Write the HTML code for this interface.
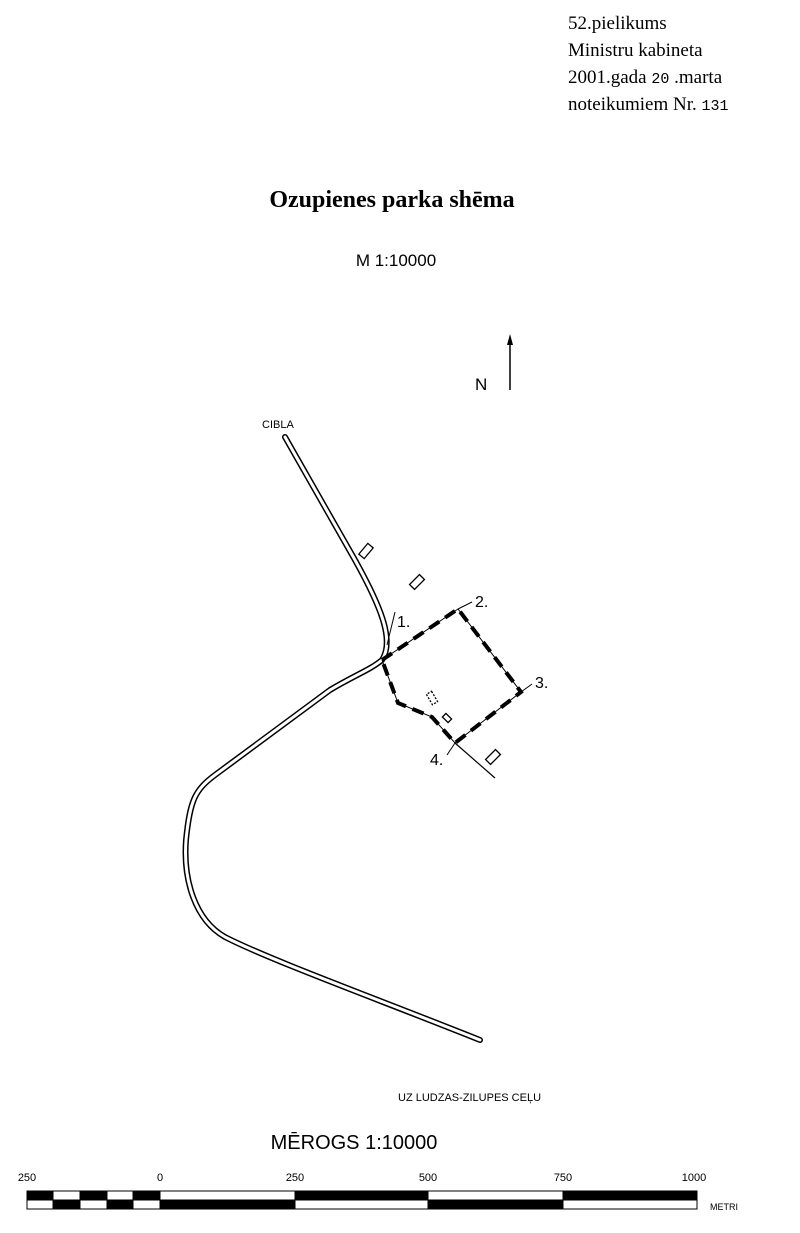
<!DOCTYPE html>
<html><head><meta charset="utf-8"><style>
body{margin:0;background:#fff;}
svg{display:block;}
</style></head><body>
<svg width="800" height="1233" viewBox="0 0 800 1233" xmlns="http://www.w3.org/2000/svg">
<g font-family="Liberation Serif, serif" font-size="19" fill="#000">
<text x="568" y="29">52.pielikums</text>
<text x="568" y="56">Ministru kabineta</text>
<text x="568" y="83">2001.gada <tspan font-family="Liberation Mono, monospace" font-size="15">20</tspan> .marta</text>
<text x="568" y="110">noteikumiem Nr. <tspan font-family="Liberation Mono, monospace" font-size="15">131</tspan></text>
<text x="392" y="207" text-anchor="middle" font-size="24" font-weight="bold">Ozupienes parka shēma</text>
</g>
<g font-family="Liberation Sans, sans-serif" fill="#000">
<text x="396" y="266" text-anchor="middle" font-size="17">M 1:10000</text>
<text x="475" y="390" font-size="17">N</text>
<text x="262" y="428" font-size="11">CIBLA</text>
<text x="397" y="627" font-size="16">1.</text>
<text x="475" y="607" font-size="16">2.</text>
<text x="535" y="688" font-size="16">3.</text>
<text x="430" y="765" font-size="16">4.</text>
<text x="398" y="1101" font-size="11">UZ LUDZAS-ZILUPES CEĻU</text>
<text x="354" y="1149" text-anchor="middle" font-size="20">MĒROGS  1:10000</text>
<g font-size="11" text-anchor="middle">
<text x="27" y="1181">250</text><text x="160" y="1181">0</text><text x="295" y="1181">250</text>
<text x="428" y="1181">500</text><text x="563" y="1181">750</text><text x="694" y="1181">1000</text>
</g>
<text x="710" y="1210" font-size="9">METRI</text>
</g>
<line x1="510" y1="338" x2="510" y2="390" stroke="#000" stroke-width="1.5"/>
<polygon points="510,334 507,345 513,345" fill="#000"/>
<!-- road -->
<g fill="none" stroke-linecap="round" stroke-linejoin="round">
<path id="r" d="M285,437 L355,560 C380,605 395,640 382,660 C370,670 355,675 330,690 L215,775 C195,790 190,800 186,840 C183,880 195,920 225,937 C270,960 380,1000 480,1040" stroke="#000" stroke-width="6"/>
<path d="M285,437 L355,560 C380,605 395,640 382,660 C370,670 355,675 330,690 L215,775 C195,790 190,800 186,840 C183,880 195,920 225,937 C270,960 380,1000 480,1040" stroke="#fff" stroke-width="3"/>
</g>
<!-- parcel -->
<g fill="none" stroke="#000">
<polyline points="382,660 458,609 521,692 455,743 432,717 398,703 382,660" stroke-width="1"/>
<polyline points="382,660 458,609 521,692 455,743 432,717 398,703 382,660" stroke-width="4" stroke-dasharray="12,7"/>
<line x1="455" y1="743" x2="495" y2="778" stroke-width="1.2"/>
<line x1="458" y1="609" x2="472" y2="602" stroke-width="1"/>
<line x1="521" y1="692" x2="532" y2="684" stroke-width="1"/>
<line x1="455" y1="743" x2="447" y2="755" stroke-width="1"/>
<line x1="387" y1="645" x2="395" y2="612" stroke-width="1"/>
<g stroke-width="1.3">
<rect x="-7" y="-3.5" width="14" height="7" transform="translate(366,551) rotate(-50)"/>
<rect x="-7" y="-3.5" width="14" height="7" transform="translate(417,582) rotate(-45)"/>
<rect x="-7" y="-3.5" width="14" height="7" transform="translate(493,757) rotate(-45)"/>
<rect x="-4" y="-2.5" width="8" height="5" transform="translate(447,718) rotate(45)"/>
<rect x="-6" y="-3" width="12" height="6" transform="translate(432,698) rotate(60)" stroke-dasharray="2,1.5"/>
</g>
</g>
<!-- scale bar -->
<g stroke="#000" stroke-width="1">
<rect x="27" y="1191" width="670" height="18" fill="#fff"/>
<rect x="27" y="1191" width="26" height="9" fill="#000"/>
<rect x="80" y="1191" width="27" height="9" fill="#000"/>
<rect x="133" y="1191" width="27" height="9" fill="#000"/>
<rect x="295" y="1191" width="133" height="9" fill="#000"/>
<rect x="563" y="1191" width="134" height="9" fill="#000"/>
<rect x="53" y="1200" width="27" height="9" fill="#000"/>
<rect x="107" y="1200" width="26" height="9" fill="#000"/>
<rect x="160" y="1200" width="135" height="9" fill="#000"/>
<rect x="428" y="1200" width="135" height="9" fill="#000"/>
</g>
</svg>
</body></html>
